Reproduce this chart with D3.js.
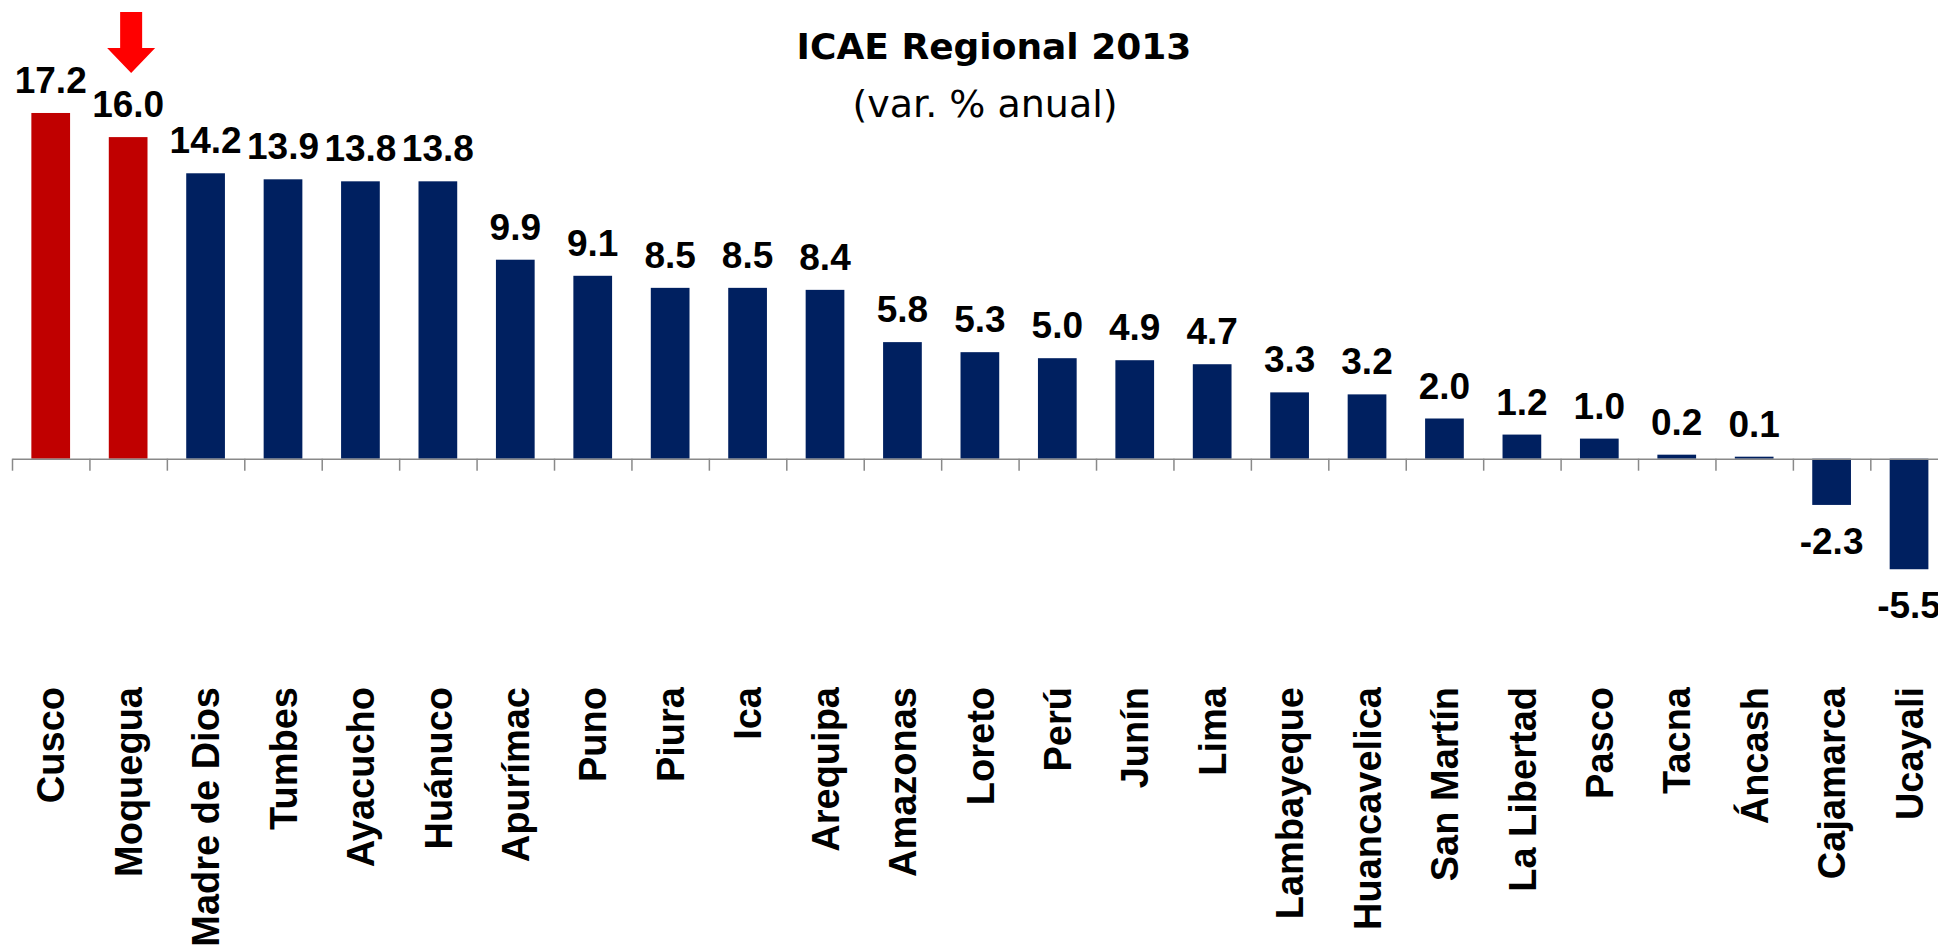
<!DOCTYPE html>
<html>
<head>
<meta charset="utf-8">
<script src="https://cdn.jsdelivr.net/npm/d3@7"></script>
<style>
  body { margin: 0; background: #fff; }
  svg { display: block; }
</style>
</head>
<body>
<div id="vis"></div>
<script>
// datos: ICAE regional 2013, var. % anual
var regiones = ["Cusco", "Moquegua", "Madre de Dios", "Tumbes", "Ayacucho", "Huánuco",
    "Apurímac", "Puno", "Piura", "Ica", "Arequipa", "Amazonas", "Loreto", "Perú",
    "Junín", "Lima", "Lambayeque", "Huancavelica", "San Martín", "La Libertad",
    "Pasco", "Tacna", "Áncash", "Cajamarca", "Ucayali"];
var variacion = [17.2, 16.0, 14.2, 13.9, 13.8, 13.8, 9.9, 9.1, 8.5, 8.5, 8.4, 5.8,
    5.3, 5.0, 4.9, 4.7, 3.3, 3.2, 2.0, 1.2, 1.0, 0.2, 0.1, -2.3, -5.5];
var destacadas = ["Cusco", "Moquegua"];
var flecha = "Moquegua";
var titulo = "ICAE Regional 2013",
    subtitulo = "(var. % anual)";

var width = 1938,
    height = 947;

var data = regiones.map(function(d, i) { return {region: d, valor: variacion[i]} });

var svg = d3.select("#vis").append("svg")
    .attr("width", width)
    .attr("height", height);

// escalas
var x = d3.scaleBand()
    .domain(regiones)
    .range([12, 12 + 25 * 77.43])
    .paddingInner(0.5)
    .paddingOuter(0.25);

// indices para los ticks entre categorias
var xi = d3.scaleLinear()
    .domain([0, regiones.length])
    .range(x.range());

var y = d3.scaleLinear()
    .domain([-6, 18])
    .range([458.7 + 6 * 20.1, 458.7 - 18 * 20.1]);

// titulo
svg.append("text")
    .attr("x", 994)
    .attr("y", 59)
    .attr("text-anchor", "middle")
    .style("font-family", "'DejaVu Sans', sans-serif")
    .style("font-weight", "bold")
    .style("font-size", "36px")
    .text(titulo);

svg.append("text")
    .attr("x", 985)
    .attr("y", 117)
    .attr("text-anchor", "middle")
    .style("font-family", "'DejaVu Sans', sans-serif")
    .style("font-size", "38px")
    .text(subtitulo);

// barras
svg.selectAll("rect.bar")
    .data(data)
    .enter()
    .append("rect")
    .attr("class", "bar")
    .attr("x", function(d) { return x(d.region) })
    .attr("width", x.bandwidth())
    .attr("y", function(d) { return y(Math.max(0, d.valor)) })
    .attr("height", function(d) { return Math.abs(y(d.valor) - y(0)) })
    .attr("fill", function(d) { return destacadas.indexOf(d.region) > -1 ? "#C00000" : "#002060" });

// eje
var axis = svg.append("g")
    .attr("transform", "translate(0," + y(0) + ")")
    .call(d3.axisBottom(xi)
        .tickValues(d3.range(0, regiones.length + 1))
        .tickSize(12)
        .tickSizeOuter(0)
        .tickFormat(""));

axis.selectAll("path, line")
    .attr("stroke", "#898989")
    .attr("stroke-width", 1.5);

// etiquetas de valor
svg.selectAll("text.valor")
    .data(data)
    .enter()
    .append("text")
    .attr("class", "valor")
    .attr("x", function(d) { return x(d.region) + x.bandwidth() / 2 })
    .attr("y", function(d) { return d.valor >= 0 ? y(d.valor) - 20 : y(d.valor) + 49 })
    .attr("text-anchor", "middle")
    .style("font-family", "'Liberation Sans', Arial, sans-serif")
    .style("font-weight", "bold")
    .style("font-size", "37px")
    .style("fill", "#000")
    .text(function(d) { return d.valor.toFixed(1) });

// nombres de regiones, verticales
svg.selectAll("text.region")
    .data(data)
    .enter()
    .append("text")
    .attr("class", "region")
    .attr("transform", function(d) { return "translate(" + (x(d.region) + x.bandwidth() / 2) + ",687) rotate(-90)" })
    .attr("dy", "0.36em")
    .attr("text-anchor", "end")
    .style("font-family", "'Liberation Sans', Arial, sans-serif")
    .style("font-weight", "bold")
    .style("font-size", "38px")
    .style("fill", "#000")
    .text(function(d) { return d.region });

// flecha roja sobre Moquegua
var fx = x(flecha) + x.bandwidth() / 2 + 3,
    fTip = 73;
svg.append("path")
    .attr("d", "M" + (fx - 11) + ",12 H" + (fx + 11) + " V" + (fTip - 25) +
        " H" + (fx + 24) + " L" + fx + "," + fTip + " L" + (fx - 24) + "," + (fTip - 25) +
        " H" + (fx - 11) + " Z")
    .attr("fill", "#FF0000");
</script>
</body>
</html>
